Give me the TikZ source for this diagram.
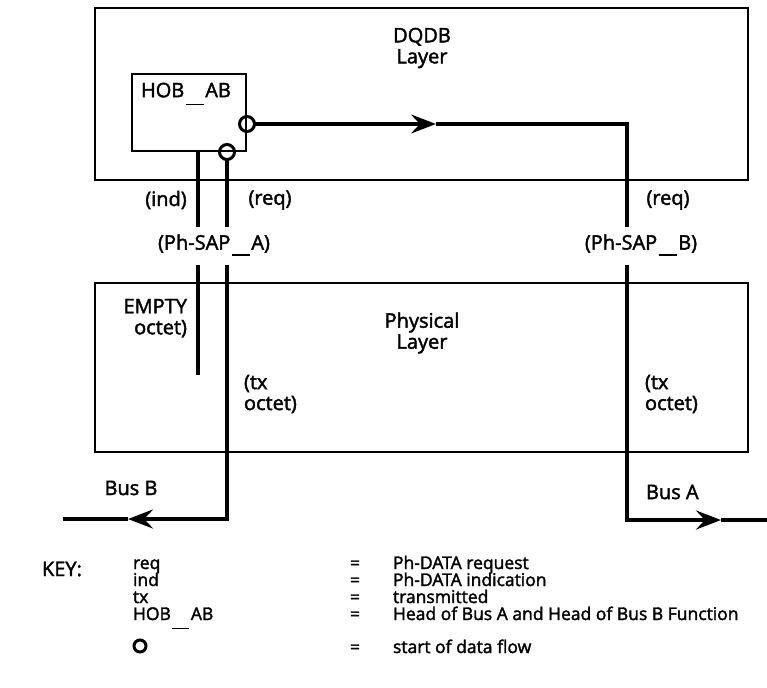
\documentclass[tikz,border=0pt]{standalone}
\usepackage{fontspec}
\setmainfont{Open Sans}[FakeBold=2]
\usetikzlibrary{arrows.meta}
\newcommand\lowbar[2]{\kern1.5pt\rule[#1]{#2}{1.5pt}\kern1.5pt}
\begin{document}
\begin{tikzpicture}[x=1pt,y=-1pt,
  every node/.style={font=\fontsize{20}{21}\selectfont, inner sep=0pt, outer sep=0pt},
  layerbox/.style={draw, line width=1.9pt, anchor=north west},
  flow/.style={line width=4.3pt},
  ring/.style={circle, draw, line width=3pt, minimum size=15pt, inner sep=0pt},
  tip/.style={-{Stealth[length=25pt,width=19pt,inset=9pt]}},
  lbl/.style={align=center},
  keyrow/.style={anchor=base west, font=\fontsize{17.5}{16}\selectfont},
]
\useasboundingbox (0,0) rectangle (767,687);

% layer boxes
\node[layerbox, minimum width=653pt, minimum height=172pt] (dqdb) at (95,8) {};
\node[layerbox, minimum width=653pt, minimum height=169pt] (phys) at (95,283) {};
\node[layerbox, minimum width=114pt, minimum height=77pt] (hob) at (132,74) {};

% texts
\node[lbl] (dqdbt) at (422,48) {DQDB\\Layer};
\node[anchor=west] (hobt) at (141,94) {HOB\lowbar{-8pt}{18pt}AB};
\node[lbl] (physt) at (422,333) {Physical\\Layer};
\node (ind) at (166,200) {(ind)};
\node (reqa) at (270,200) {(req)};
\node (reqb) at (668,200) {(req)};
\node (sapa) at (214,245) {(Ph-SAP\lowbar{-6pt}{18pt}A)};
\node (sapb) at (641,245) {(Ph-SAP\lowbar{-6pt}{18pt}B)};
\node[align=right, anchor=north east] (empty) at (187,299) {EMPTY\\octet)};
\node[align=left, anchor=west] (txa) at (244,394) {(tx\\octet)};
\node[align=left, anchor=west] (txb) at (645,394) {(tx\\octet)};
\node (busb) at (131,488) {Bus B};
\node[anchor=west] (busa) at (646,492) {Bus A};

% start-of-flow rings
\node[ring] (c1) at (247,124) {};
\node[ring] (c2) at (227,152) {};

% coordinates
\coordinate (tip1) at (436,124);
\coordinate (cR) at (627,124);
\coordinate (bR1) at (627,227);
\coordinate (tR2) at (627,265);
\coordinate (cR2) at (627,520);
\coordinate (tipA) at (721,520);
\coordinate (endA) at (767,520);
\coordinate (indTop) at (198,151);
\coordinate (indB1) at (198,227);
\coordinate (indT2) at (198,265);
\coordinate (indEnd) at (198,375);
\coordinate (reqB1) at (227,227);
\coordinate (reqT2) at (227,265);
\coordinate (cL) at (227,519);
\coordinate (tipB) at (128,519);
\coordinate (endB) at (63,519);

% flows
\draw[flow, tip] (c1) -- (tip1);
\draw[flow] (tip1) -- (cR) -- (bR1);
\draw[flow, tip] (tR2) -- (cR2) -- (tipA);
\draw[flow] (tipA) -- (endA);
\draw[flow] (indTop) -- (indB1);
\draw[flow] (indT2) -- (indEnd);
\draw[flow] (c2) -- (reqB1);
\draw[flow, tip] (reqT2) -- (cL) -- (tipB);
\draw[flow] (tipB) -- (endB);

% key
\node[anchor=base west] (key) at (42,576) {KEY:};
\node[keyrow] (k1) at (133,569) {req};
\node[keyrow] (k2) at (133,586) {ind};
\node[keyrow] (k3) at (133,603) {tx};
\node[keyrow] (k4) at (133,620) {HOB\lowbar{-9pt}{17pt}AB};
\node[keyrow] (e1) at (350,569) {=};
\node[keyrow] (e2) at (350,586) {=};
\node[keyrow] (e3) at (350,603) {=};
\node[keyrow] (e4) at (350,620) {=};
\node[keyrow] (d1) at (393,569) {Ph-DATA request};
\node[keyrow] (d2) at (393,586) {Ph-DATA indication};
\node[keyrow] (d3) at (393,603) {transmitted};
\node[keyrow] (d4) at (393,620) {Head of Bus A and Head of Bus B Function};
\node[ring, minimum size=12pt, line width=3pt] (kc) at (140,646) {};
\node[keyrow] (e5) at (350,653) {=};
\node[keyrow] (d5) at (393,653) {start of data flow};
\end{tikzpicture}
\end{document}
